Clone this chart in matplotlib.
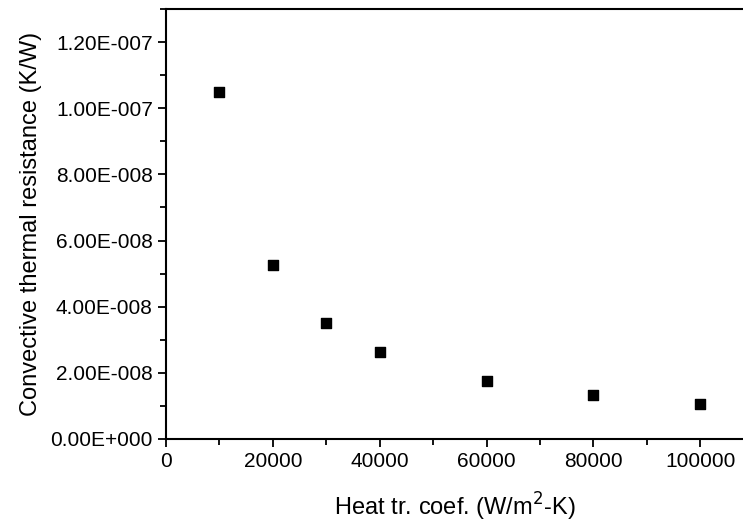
import numpy as np
import matplotlib
matplotlib.use("Agg")
import matplotlib.pyplot as plt
from matplotlib.ticker import MultipleLocator, FuncFormatter

# -------------------------------------------------------------
# Data
# -------------------------------------------------------------
heat_coef = [10000, 20000, 30000, 40000, 60000, 80000, 100000]
resistance = [1.05e-7, 5.26e-8, 3.51e-8, 2.63e-8, 1.75e-8, 1.32e-8, 1.06e-8]

plt.rcParams["font.family"] = ["Liberation Sans", "DejaVu Sans"]


def origin_sci(v, pos):
    # Origin style: 1.20E-007
    if v == 0:
        return "0.00E+000"
    exp = int(np.floor(np.log10(abs(v))))
    mant = v / 10 ** exp
    if round(mant, 2) >= 10:
        mant /= 10
        exp += 1
    sign = "-" if exp < 0 else "+"
    return f"{mant:.2f}E{sign}{abs(exp):03d}"


fig = plt.figure(figsize=(7.43, 5.23), dpi=100)
ax = fig.add_axes([166 / 743, 1 - 439 / 523, 1 - 166 / 743, (439 - 9) / 523])

ax.scatter(heat_coef, resistance, marker="s", s=52, color="black", zorder=3)

ax.set_xlim(0, 108000)
ax.set_ylim(0, 1.30e-7)

ax.xaxis.set_major_locator(MultipleLocator(20000))
ax.xaxis.set_minor_locator(MultipleLocator(10000))
ax.yaxis.set_major_locator(MultipleLocator(2e-8))
ax.yaxis.set_minor_locator(MultipleLocator(1e-8))
ax.yaxis.set_major_formatter(FuncFormatter(origin_sci))
ax.xaxis.set_major_formatter(FuncFormatter(lambda v, p: f"{int(v)}"))

ax.spines["right"].set_visible(False)
for s in ["left", "bottom", "top"]:
    ax.spines[s].set_linewidth(1.5)

ax.tick_params(which="both", direction="out", width=1.3, labelsize=15,
               top=False, right=False)
ax.tick_params(which="major", length=6)
ax.tick_params(which="minor", length=4)

ax.set_xlabel("Heat tr. coef. (W/m$^2$-K)", fontsize=17, labelpad=14)
ax.set_ylabel("Convective thermal resistance (K/W)", fontsize=17, labelpad=6)

fig.savefig("out.png", dpi=100)
